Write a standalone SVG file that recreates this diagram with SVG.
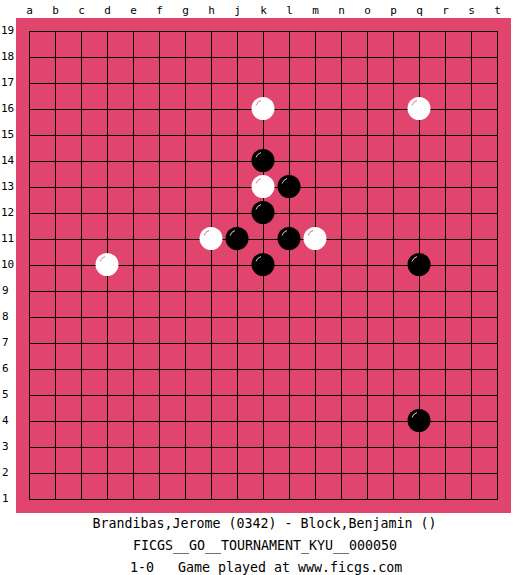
<svg xmlns="http://www.w3.org/2000/svg" width="525" height="575" viewBox="0 0 525 575">
<defs>
<style>
.lbl{font-family:"DejaVu Sans Mono","Liberation Mono",monospace;font-size:11px;fill:#000}
.cap{font-family:"DejaVu Sans Mono","Liberation Mono",monospace;font-size:13.3px;fill:#000}
.grid line{stroke:#000;stroke-width:1}
.b{fill:#000}
.w{fill:#fff}
.hb{fill:none;stroke:#f0c8d4;stroke-width:1}
.hw{fill:none;stroke:#e07090;stroke-width:1}
</style>
<g id="blk"><circle class="b" r="11.5"/><path class="hb" d="M-7,-3 A8,8 0 0 1 -2,-8"/></g>
<g id="wht"><circle class="w" r="11.5"/><path class="hw" d="M-7,-3 A8,8 0 0 1 -2,-8"/></g>
</defs>
<rect width="525" height="575" fill="#fff"/>
<rect x="16" y="18" width="495" height="495" fill="#E1446D"/>
<g class="lbl" text-anchor="middle">
<text x="29.5" y="14">a</text><text x="55.5" y="14">b</text><text x="81.5" y="14">c</text><text x="107.5" y="14">d</text><text x="133.5" y="14">e</text><text x="159.5" y="14">f</text><text x="185.5" y="14">g</text><text x="211.5" y="14">h</text><text x="237.5" y="14">j</text><text x="263.5" y="14">k</text><text x="289.5" y="14">l</text><text x="315.5" y="14">m</text><text x="341.5" y="14">n</text><text x="367.5" y="14">o</text><text x="393.5" y="14">p</text><text x="419.5" y="14">q</text><text x="445.5" y="14">r</text><text x="471.5" y="14">s</text><text x="497.5" y="14">t</text>
</g>
<g class="lbl">
<text x="1" y="34">19</text><text x="1" y="60">18</text><text x="1" y="86">17</text><text x="1" y="112">16</text><text x="1" y="138">15</text><text x="1" y="164">14</text><text x="1" y="190">13</text><text x="1" y="216">12</text><text x="1" y="242">11</text><text x="1" y="268">10</text><text x="2" y="294">9</text><text x="2" y="320">8</text><text x="2" y="346">7</text><text x="2" y="372">6</text><text x="2" y="398">5</text><text x="2" y="424">4</text><text x="2" y="450">3</text><text x="2" y="476">2</text><text x="2" y="502">1</text>
</g>
<g class="grid">
<line x1="29.5" y1="31.5" x2="29.5" y2="499.5"/><line x1="55.5" y1="31.5" x2="55.5" y2="499.5"/><line x1="81.5" y1="31.5" x2="81.5" y2="499.5"/><line x1="107.5" y1="31.5" x2="107.5" y2="499.5"/><line x1="133.5" y1="31.5" x2="133.5" y2="499.5"/><line x1="159.5" y1="31.5" x2="159.5" y2="499.5"/><line x1="185.5" y1="31.5" x2="185.5" y2="499.5"/><line x1="211.5" y1="31.5" x2="211.5" y2="499.5"/><line x1="237.5" y1="31.5" x2="237.5" y2="499.5"/><line x1="263.5" y1="31.5" x2="263.5" y2="499.5"/><line x1="289.5" y1="31.5" x2="289.5" y2="499.5"/><line x1="315.5" y1="31.5" x2="315.5" y2="499.5"/><line x1="341.5" y1="31.5" x2="341.5" y2="499.5"/><line x1="367.5" y1="31.5" x2="367.5" y2="499.5"/><line x1="393.5" y1="31.5" x2="393.5" y2="499.5"/><line x1="419.5" y1="31.5" x2="419.5" y2="499.5"/><line x1="445.5" y1="31.5" x2="445.5" y2="499.5"/><line x1="471.5" y1="31.5" x2="471.5" y2="499.5"/><line x1="497.5" y1="31.5" x2="497.5" y2="499.5"/>
<line x1="29.5" y1="31.5" x2="497.5" y2="31.5"/><line x1="29.5" y1="57.5" x2="497.5" y2="57.5"/><line x1="29.5" y1="83.5" x2="497.5" y2="83.5"/><line x1="29.5" y1="109.5" x2="497.5" y2="109.5"/><line x1="29.5" y1="135.5" x2="497.5" y2="135.5"/><line x1="29.5" y1="161.5" x2="497.5" y2="161.5"/><line x1="29.5" y1="187.5" x2="497.5" y2="187.5"/><line x1="29.5" y1="213.5" x2="497.5" y2="213.5"/><line x1="29.5" y1="239.5" x2="497.5" y2="239.5"/><line x1="29.5" y1="265.5" x2="497.5" y2="265.5"/><line x1="29.5" y1="291.5" x2="497.5" y2="291.5"/><line x1="29.5" y1="317.5" x2="497.5" y2="317.5"/><line x1="29.5" y1="343.5" x2="497.5" y2="343.5"/><line x1="29.5" y1="369.5" x2="497.5" y2="369.5"/><line x1="29.5" y1="395.5" x2="497.5" y2="395.5"/><line x1="29.5" y1="421.5" x2="497.5" y2="421.5"/><line x1="29.5" y1="447.5" x2="497.5" y2="447.5"/><line x1="29.5" y1="473.5" x2="497.5" y2="473.5"/><line x1="29.5" y1="499.5" x2="497.5" y2="499.5"/>
</g>
<g id="stones">
<use href="#wht" x="263" y="108.5"/>
<use href="#wht" x="419" y="108.5"/>
<use href="#blk" x="263" y="160.5"/>
<use href="#wht" x="263" y="186.5"/>
<use href="#blk" x="289" y="186.5"/>
<use href="#blk" x="263" y="212.5"/>
<use href="#wht" x="211" y="238.5"/>
<use href="#blk" x="237" y="238.5"/>
<use href="#blk" x="289" y="238.5"/>
<use href="#wht" x="315" y="238.5"/>
<use href="#wht" x="107" y="264.5"/>
<use href="#blk" x="263" y="264.5"/>
<use href="#blk" x="419" y="264.5"/>
<use href="#blk" x="419" y="420.5"/>
</g>
<g id="caption">
<text class="cap" x="264.5" y="528" text-anchor="middle">Brandibas,Jerome (0342) - Block,Benjamin ()</text>
<text class="cap" x="265" y="550" text-anchor="middle">FICGS__GO__TOURNAMENT_KYU__000050</text>
<text class="cap" x="130" y="572">1-0</text>
<text class="cap" x="178" y="572">Game played at www.ficgs.com</text>
</g>
</svg>
